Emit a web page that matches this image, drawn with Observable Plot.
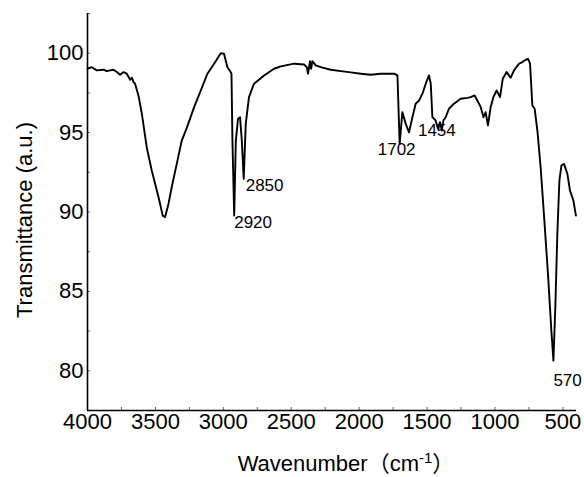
<!DOCTYPE html>
<html>
<head>
<meta charset="utf-8">
<script src="https://cdn.jsdelivr.net/npm/d3@7"></script>
<script src="https://cdn.jsdelivr.net/npm/@observablehq/plot@0.6"></script>
<style>
  html, body { margin: 0; padding: 0; background: #ffffff; }
  #chart { width: 584px; height: 477px; }
</style>
</head>
<body>
<div id="chart"></div>
<script>
// FTIR spectrum
const wavenumber = [
  4000, 3968, 3932, 3882, 3858, 3834, 3809, 3784, 3760, 3735, 3711, 3686, 3674, 3661, 3650,
  3625, 3600, 3564, 3527, 3477, 3446, 3429, 3404, 3380, 3343, 3306, 3269, 3215, 3166, 3117,
  3068, 3019, 2995, 2970, 2950, 2940, 2933, 2920, 2908, 2892, 2877, 2864, 2850, 2835, 2811,
  2774, 2700, 2627, 2577, 2479, 2406, 2386, 2376, 2362, 2354, 2344, 2320, 2283, 2209, 2135,
  2062, 1988, 1915, 1841, 1768, 1743, 1718, 1702, 1682, 1657, 1633, 1608, 1584, 1559, 1534,
  1510, 1486, 1473, 1461, 1437, 1420, 1405, 1392, 1380, 1363, 1339, 1302, 1253, 1203, 1179,
  1150, 1130, 1105, 1085, 1069, 1052, 1032, 1012, 988, 963, 943, 914, 885, 860, 823,
  798, 774, 757, 742, 725, 708, 688, 664, 640, 610, 585, 570, 556, 541, 526,
  511, 492, 467, 448, 423, 404
];
const transmittance = [
  99.02, 99.12, 98.92, 98.96, 98.87, 98.92, 98.96, 98.81, 98.64, 98.81, 98.71, 98.33, 98.46, 98.18, 98.08,
  97.34, 96.19, 94.08, 92.61, 90.93, 89.77, 89.67, 90.51, 91.56, 93.03, 94.50, 95.30, 96.60, 97.65, 98.71,
  99.34, 100.0, 99.97, 99.12, 98.87, 98.71, 94.50, 89.78, 94.50, 95.87, 95.97, 94.50, 92.09, 95.55, 97.23,
  98.08, 98.60, 99.02, 99.17, 99.34, 99.29, 99.12, 98.71, 99.50, 99.02, 99.50, 99.23, 99.12, 98.96, 98.87,
  98.79, 98.71, 98.64, 98.71, 98.71, 98.71, 98.60, 94.29, 96.29, 95.55, 95.02, 95.97, 96.82, 97.02, 97.45,
  98.08, 98.60, 98.08, 95.97, 95.76, 95.24, 95.66, 95.13, 95.76, 95.97, 96.50, 96.82, 97.13, 97.19, 97.23,
  97.34, 97.02, 96.60, 95.97, 96.29, 95.45, 96.60, 97.23, 97.65, 97.23, 98.39, 98.81, 98.45, 98.92, 99.34,
  99.44, 99.59, 99.65, 99.34, 96.71, 96.50, 95.13, 92.82, 89.88, 86.10, 82.52, 80.64, 83.99, 88.62, 91.98,
  92.93, 93.03, 92.40, 91.35, 90.72, 89.77
];

const xTicks = [4000, 3500, 3000, 2500, 2000, 1500, 1000, 500];
const xMinorTicks = [4000, 3750, 3500, 3250, 3000, 2750, 2500, 2250, 2000, 1750, 1500, 1250, 1000, 750, 500];
const yTicks = [80, 85, 90, 95, 100];
const yMinorTicks = [80, 82.5, 85, 87.5, 90, 92.5, 95, 97.5, 100, 102.5];

const peakLabels = ["2920", "2850", "1702", "1454", "570"];
const peakWave = [2920, 2850, 1702, 1454, 570];
const peakT = [89.78, 92.09, 94.29, 95.9, 80.64];

const xTitle = "Wavenumber（cm-1）";
const yTitle = "Transmittance (a.u.)";

const spectrum = wavenumber.map((w, i) => ({w, t: transmittance[i]}));
const peaks = peakLabels.map((label, i) => ({label, w: peakWave[i], t: peakT[i]}));

// per-label placement (style, not data)
const labelPlacement = [
  {textAnchor: "start", dx: 0, dy: 0},
  {textAnchor: "start", dx: 2, dy: 0},
  {textAnchor: "middle", dx: -3, dy: -1},
  {textAnchor: "middle", dx: 3.5, dy: 5.5},
  {textAnchor: "start", dx: 0, dy: 13}
];

const FONT = "'Liberation Sans', Arial, 'Noto Sans CJK SC', sans-serif";

const chart = Plot.plot({
  width: 584,
  height: 477,
  marginLeft: 87,
  marginRight: 8,
  marginTop: 13,
  marginBottom: 67,
  x: {domain: [4000, 400]},
  y: {domain: [77.5, 102.5]},
  style: {fontFamily: FONT, fontSize: "22px", color: "#000", background: "#fff"},
  marks: [
    Plot.axisX({ticks: xMinorTicks, tickSize: -3, tickFormat: () => "", label: null, stroke: "#666", strokeWidth: 1}),
    Plot.axisY({ticks: yMinorTicks, tickSize: -3, tickFormat: () => "", label: null, stroke: "#666", strokeWidth: 1}),
    Plot.axisX({ticks: xTicks, tickSize: 0, tickPadding: 3, tickFormat: "d", fontSize: 22, label: null}),
    Plot.axisY({ticks: yTicks, tickSize: 0, tickPadding: 4, tickFormat: "d", fontSize: 22, label: null}),
    Plot.ruleX([4000], {stroke: "#000", strokeWidth: 1.6}),
    Plot.ruleY([77.5], {stroke: "#000", strokeWidth: 1.6}),
    Plot.line(spectrum, {x: "w", y: "t", stroke: "#000", strokeWidth: 1.9, strokeLinejoin: "round"}),
    ...peaks.map((p, i) => Plot.text([p], {
      x: "w", y: "t", text: "label",
      textAnchor: labelPlacement[i].textAnchor, lineAnchor: "top",
      dx: labelPlacement[i].dx, dy: labelPlacement[i].dy,
      fontSize: 17, fill: "#000"
    })),
    Plot.text([yTitle], {frameAnchor: "left", textAnchor: "middle", lineAnchor: "middle", rotate: -90, dx: -63, dy: 8, fontSize: 22, fill: "#000"}),
    Plot.text([xTitle], {frameAnchor: "bottom", textAnchor: "middle", lineAnchor: "bottom", dx: 14, dy: 60, fontSize: 22, fill: "#000"})
  ]
});

document.getElementById("chart").appendChild(chart);

// superscript for the unit in the x title
chart.querySelectorAll("text").forEach(el => {
  if (el.textContent === xTitle) {
    const ns = "http://www.w3.org/2000/svg";
    el.textContent = "";
    el.appendChild(document.createTextNode("Wavenumber（cm"));
    const sup = document.createElementNS(ns, "tspan");
    sup.setAttribute("dy", "-8");
    sup.setAttribute("font-size", "15");
    sup.textContent = "-1";
    el.appendChild(sup);
    const close = document.createElementNS(ns, "tspan");
    close.setAttribute("dy", "8");
    close.textContent = "）";
    el.appendChild(close);
  }
});
</script>
</body>
</html>
